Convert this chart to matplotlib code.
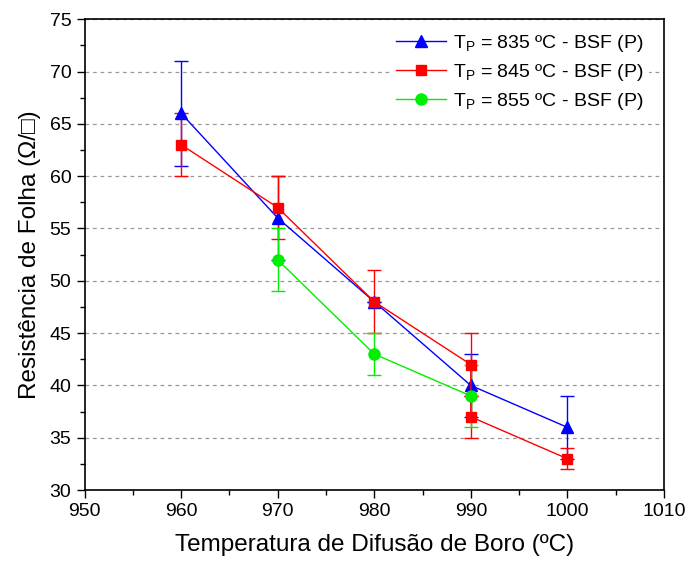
import matplotlib
matplotlib.use("Agg")
import matplotlib.pyplot as plt
from matplotlib.ticker import MultipleLocator

plt.rcParams['font.family'] = ['Liberation Sans', 'DejaVu Sans']
plt.rcParams['mathtext.fontset'] = 'custom'
plt.rcParams['mathtext.rm'] = 'Liberation Sans'
plt.rcParams['mathtext.it'] = 'Liberation Sans'

# dados
temp_835 = [960, 970, 980, 990, 1000]
res_835 = [66, 56, 48, 40, 36]
err_835 = [5, 4, 0, 3, 3]

temp_845 = [960, 970, 980, 990, 990, 1000]
res_845 = [63, 57, 48, 42, 37, 33]
err_845 = [3, 3, 3, 3, 2, 1]

temp_855 = [970, 980, 990]
res_855 = [52, 43, 39]
err_855 = [3, 2, 3]

labels = [r"$\mathregular{T_P}$ = 835 ºC - BSF (P)",
          r"$\mathregular{T_P}$ = 845 ºC - BSF (P)",
          r"$\mathregular{T_P}$ = 855 ºC - BSF (P)"]

fig = plt.figure(figsize=(6.88, 5.64), dpi=100)
ax = fig.add_axes([0.123, 0.131, 0.842, 0.835])

e1 = ax.errorbar(temp_835, res_835, yerr=err_835, color='#0000FF', marker='^',
                 markersize=9, linewidth=1, capsize=5, elinewidth=1, zorder=3)
e2 = ax.errorbar(temp_845, res_845, yerr=err_845, color='#FF0000', marker='s',
                 markersize=7, linewidth=1, capsize=5, elinewidth=1, zorder=3)
e3 = ax.errorbar(temp_855, res_855, yerr=err_855, color='#00EE00', marker='o',
                 markersize=8, linewidth=1, capsize=5, elinewidth=1, zorder=3)

ax.set_xlim(950, 1010)
ax.set_ylim(30, 75)
ax.xaxis.set_major_locator(MultipleLocator(10))
ax.xaxis.set_minor_locator(MultipleLocator(5))
ax.yaxis.set_major_locator(MultipleLocator(5))
ax.yaxis.set_minor_locator(MultipleLocator(2.5))
ax.tick_params(which='both', direction='out', labelsize=14, top=False, right=False)
ax.tick_params(which='major', length=6, width=1)
ax.tick_params(which='minor', length=3.5, width=1)
for sp in ax.spines.values():
    sp.set_linewidth(1.2)

ax.yaxis.grid(True, linestyle=(0, (3, 3)), color='#999999', linewidth=0.9)
ax.set_axisbelow(True)

ax.set_xlabel("Temperatura de Difusão de Boro (ºC)", fontsize=17.5, labelpad=10)
ax.set_ylabel("Resistência de Folha (Ω/□)", fontsize=17.5, labelpad=6)

# legenda sem as barras de erro
handles = [e1[0], e2[0], e3[0]]
leg = ax.legend(handles, labels, loc='upper right', bbox_to_anchor=(1.005, 1.02),
                frameon=True, fontsize=14,
                handlelength=2.6, handletextpad=0.35, labelspacing=0.4,
                borderaxespad=0.9, borderpad=0.3,
                fancybox=False, edgecolor='none', facecolor='white', framealpha=1)

fig.savefig('out.png', dpi=100)
